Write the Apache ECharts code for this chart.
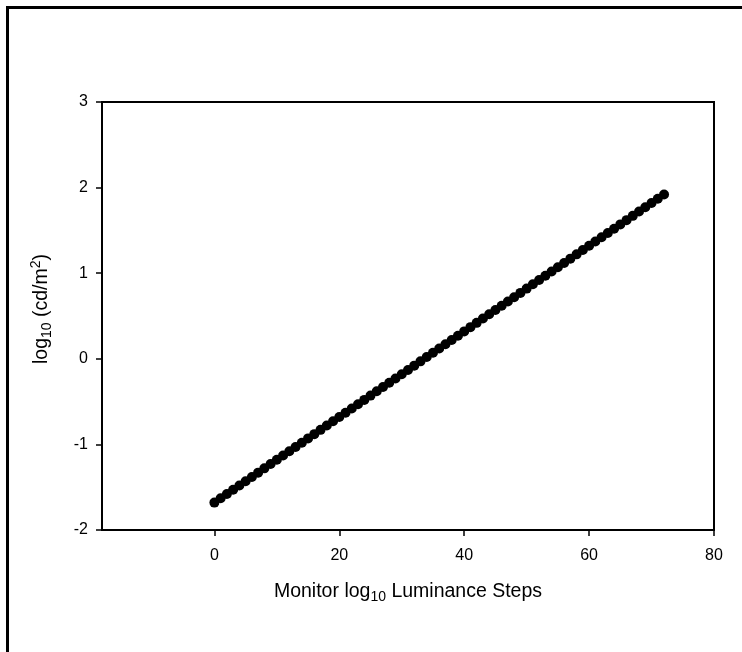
<!DOCTYPE html>
<html>
<head>
<meta charset="utf-8">
<script src="https://cdn.jsdelivr.net/npm/echarts@6/dist/echarts.min.js"></script>
<style>
html,body{margin:0;padding:0;background:#fff;}
#chart{width:742px;height:652px;}
</style>
</head>
<body>
<div id="chart"></div>
<script>
const steps = [0,1,2,3,4,5,6,7,8,9,10,11,12,13,14,15,16,17,18,19,20,21,22,23,24,25,26,27,28,29,30,31,32,33,34,35,36,37,38,39,40,41,42,43,44,45,46,47,48,49,50,51,52,53,54,55,56,57,58,59,60,61,62,63,64,65,66,67,68,69,70,71,72];
const logLum = [-1.68,-1.63,-1.58,-1.53,-1.48,-1.43,-1.38,-1.33,-1.28,-1.23,-1.18,-1.13,-1.08,-1.03,-0.98,-0.93,-0.88,-0.83,-0.78,-0.73,-0.68,-0.63,-0.58,-0.53,-0.48,-0.43,-0.38,-0.33,-0.28,-0.23,-0.18,-0.13,-0.08,-0.03,0.02,0.07,0.12,0.17,0.22,0.27,0.32,0.37,0.42,0.47,0.52,0.57,0.62,0.67,0.72,0.77,0.82,0.87,0.92,0.97,1.02,1.07,1.12,1.17,1.22,1.27,1.32,1.37,1.42,1.47,1.52,1.57,1.62,1.67,1.72,1.77,1.82,1.87,1.92];
const xTicks = [0,20,40,60,80];
const yTicks = [-2,-1,0,1,2,3];

const chart = echarts.init(document.getElementById('chart'), null, {renderer:'canvas'});
const font = '"Liberation Sans", Arial, sans-serif';
chart.setOption({
  animation:false,
  backgroundColor:'#fff',
  graphic:[{
    type:'rect', silent:true, z:-10,
    shape:{x:7.5,y:7.5,width:900,height:900},
    style:{fill:null, stroke:'#000', lineWidth:3}
  }],
  grid:{left:102, top:102, right:28, bottom:122, show:true, borderColor:'#000', borderWidth:2, backgroundColor:'transparent'},
  xAxis:{
    type:'value', min:-18, max:80,
    splitLine:{show:false},
    axisLine:{show:true, onZero:false, lineStyle:{color:'#000', width:2}},
    axisTick:{show:true, inside:false, length:6, customValues:xTicks, lineStyle:{color:'#000', width:1.5}},
    axisLabel:{customValues:xTicks, color:'#000', fontSize:16, fontFamily:font, margin:18},
    name:'{a|Monitor log}{sub|10}{a| Luminance Steps}',
    nameLocation:'middle', nameGap:49,
    nameTextStyle:{rich:{
      a:{fontSize:19.5, fontFamily:font, color:'#000', lineHeight:26},
      sub:{fontSize:14, fontFamily:font, color:'#000', padding:[11,0,0,0], lineHeight:26}
    }}
  },
  yAxis:{
    type:'value', min:-2, max:3, interval:1,
    splitLine:{show:false},
    axisLine:{show:true, onZero:false, lineStyle:{color:'#000', width:2}},
    axisTick:{show:true, inside:false, length:6, lineStyle:{color:'#000', width:1.5}},
    axisLabel:{color:'#000', fontSize:16, fontFamily:font, margin:14},
    name:'{a|log}{sub|10}{a| (cd/m}{sup|2}{a|)}',
    nameLocation:'middle', nameGap:47, nameRotate:90,
    nameTextStyle:{padding:[0,0,0,14], rich:{
      a:{fontSize:19.5, fontFamily:font, color:'#000', lineHeight:26},
      sub:{fontSize:14, fontFamily:font, color:'#000', padding:[11,0,0,0], lineHeight:26},
      sup:{fontSize:14, fontFamily:font, color:'#000', padding:[0,0,11,0], lineHeight:26}
    }}
  },
  series:[{
    type:'scatter',
    data: steps.map((s,i)=>[s, logLum[i]]),
    symbol:'circle', symbolSize:10,
    itemStyle:{color:'#000', opacity:1},
    emphasis:{disabled:true}
  }]
});
</script>
</body>
</html>
